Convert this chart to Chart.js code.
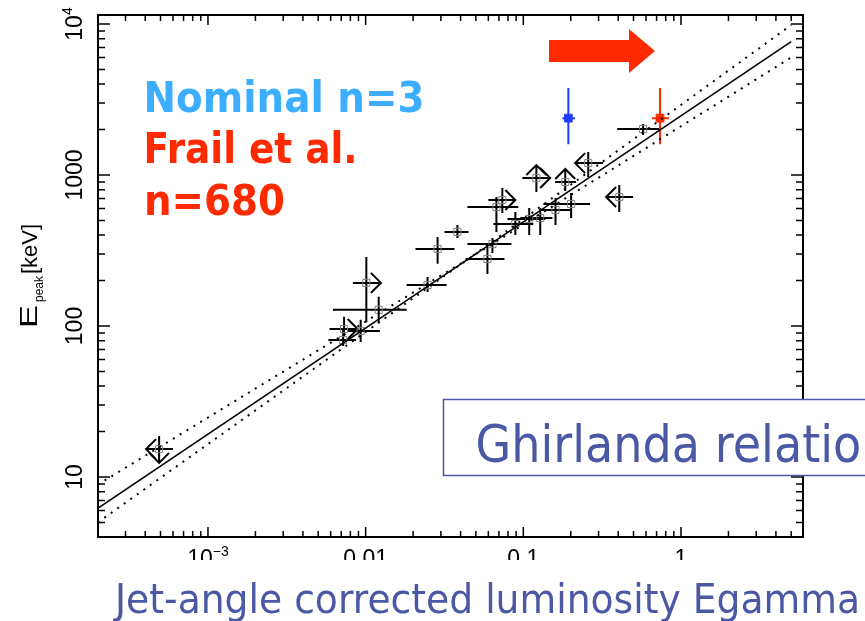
<!DOCTYPE html>
<html>
<head>
<meta charset="utf-8">
<script src="https://cdn.jsdelivr.net/npm/chart.js@4/dist/chart.umd.min.js"></script>
<style>
  html, body { margin: 0; padding: 0; background: #fff; overflow: hidden; }
  #wrap { position: relative; width: 865px; height: 621px; }
  #plot, #notes { position: absolute; left: 0; top: 0; }
</style>
</head>
<body>
<div id="wrap">
  <canvas id="plot" width="865" height="621"></canvas>
  <svg id="notes" width="865" height="621">
    <g font-family="DejaVu Sans, Verdana, sans-serif" font-weight="bold" font-size="43">
      <text x="143.5" y="112" fill="#3daeff" textLength="281" lengthAdjust="spacingAndGlyphs">Nominal n=3</text>
      <text x="143.5" y="163" fill="#ff2a00" textLength="214" lengthAdjust="spacingAndGlyphs">Frail et al.</text>
      <text x="144" y="215" fill="#ff2a00" textLength="141" lengthAdjust="spacingAndGlyphs">n=680</text>
    </g>
    <polygon points="549,40 629,40 629,29 655,51 629,73 629,62 549,62" fill="#ff2a00"/>
    <rect x="443.5" y="399.5" width="480" height="76" fill="#fff" stroke="#4b58a3" stroke-width="1.5"/>
    <g font-family="DejaVu Sans, Verdana, sans-serif" fill="#4b58a3">
      <text x="475.5" y="462" font-size="52" textLength="415" lengthAdjust="spacingAndGlyphs">Ghirlanda relation</text>
      <text x="115" y="613" font-size="41.5" textLength="745" lengthAdjust="spacingAndGlyphs">Jet-angle corrected luminosity Egamma</text>
    </g>
  </svg>
</div>
<script>
// GRB sample: E_gamma (x), E_peak in keV (y), error ranges and limit arrows (l/r/u/d)
const grbX    = [4.9e-4, 0.0072, 0.0073, 0.0093, 0.0101, 0.0121, 0.0247, 0.0286, 0.0382, 0.0592, 0.0637, 0.0675, 0.0736, 0.089, 0.109, 0.121, 0.128, 0.160, 0.1845, 0.201, 0.258, 0.406, 0.575];
const grbY    = [15.3, 80.7, 95.5, 92.8, 193, 128, 187, 324, 420, 278, 349, 614, 683, 474, 511, 955, 519, 586, 899, 643, 1199, 715, 2017];
const grbXLo  = [4.05e-4, 0.0058, 0.0059, 0.0077, 0.0083, 0.0062, 0.0182, 0.0207, 0.0316, 0.043, 0.0442, 0.0442, 0.060, 0.0646, 0.0793, 0.0986, 0.0957, 0.128, 0.159, 0.134, 0.213, 0.335, 0.394];
const grbXHi  = [6.0e-4, 0.0087, 0.0089, 0.0123, 0.0125, 0.0182, 0.0326, 0.0366, 0.0449, 0.0759, 0.084, 0.0929, 0.089, 0.1157, 0.138, 0.148, 0.153, 0.198, 0.216, 0.265, 0.321, 0.497, 0.736];
const grbYLo  = [12.4, 73.7, 84.6, 78.3, 106, 105, 168, 258, 383, 221, 304, 420, 560, 401, 401, 771, 401, 467, 783, 519, 970, 569, 1841];
const grbYHi  = [18.7, 94, 115, 110, 286, 156, 211, 388, 467, 334, 383, 715, 820, 569, 604, 1164, 604, 704, 1096, 760, 1419, 859, 2176];
const grbLimit = ['ld', '', 'r', '', 'r', '', '', '', '', '', '', '', 'r', '', '', 'ru', '', '', 'u', '', 'l', 'l', ''];

// the two highlighted bursts
const nominalX = [0.193], nominalY = [2380], nominalXLo = [0.177], nominalXHi = [0.213], nominalYLo = [1600], nominalYHi = [3770];
const frailX = [0.736], frailY = [2380], frailXLo = [0.655], frailXHi = [0.84], frailYLo = [1600], frailYHi = [3770];

// best fit and its band
const fitX = [2.0e-4, 5.0];
const fitY = [6.2, 7640];
const bandX = [2.0e-4, 0.045, 5.0];
const bandHi = [8.9, 279, 9840];
const bandLo = [5.0, 279, 6000];

// axis ticks
const xTickVals = [1e-3, 0.01, 0.1, 1];
const xTickText = [['10', '\u22123'], ['0.01', ''], ['0.1', ''], ['1', '']];
const yTickVals = [10, 100, 1000, 1e4];
const yTickText = [['10', ''], ['100', ''], ['1000', ''], ['10', '4']];

const pts = (xs, ys) => xs.map((v, i) => ({ x: v, y: ys[i] }));

function drawBar(ctx, sx, sy, vx, vy, xlo, xhi, ylo, yhi, lim, color) {
  const px = sx.getPixelForValue(vx), py = sy.getPixelForValue(vy);
  const x0 = sx.getPixelForValue(xlo), x1 = sx.getPixelForValue(xhi);
  const y0 = sy.getPixelForValue(ylo), y1 = sy.getPixelForValue(yhi);
  const a = 10;
  ctx.strokeStyle = color;
  ctx.beginPath();
  ctx.moveTo(x0, py); ctx.lineTo(x1, py);
  ctx.moveTo(px, y0); ctx.lineTo(px, y1);
  if (lim.includes('l')) { ctx.moveTo(x0 + a, py - a); ctx.lineTo(x0, py); ctx.lineTo(x0 + a, py + a); }
  if (lim.includes('r')) { ctx.moveTo(x1 - a, py - a); ctx.lineTo(x1, py); ctx.lineTo(x1 - a, py + a); }
  if (lim.includes('u')) { ctx.moveTo(px - a, y1 + a); ctx.lineTo(px, y1); ctx.lineTo(px + a, y1 + a); }
  if (lim.includes('d')) { ctx.moveTo(px - a, y0 - a); ctx.lineTo(px, y0); ctx.lineTo(px + a, y0 - a); }
  ctx.stroke();
}

const errorBars = {
  id: 'errorBars',
  beforeDatasetsDraw(chart) {
    const { ctx, scales: { x, y } } = chart;
    ctx.save();
    ctx.lineWidth = 2;
    grbX.forEach((v, i) => drawBar(ctx, x, y, v, grbY[i], grbXLo[i], grbXHi[i], grbYLo[i], grbYHi[i], grbLimit[i], '#000'));
    drawBar(ctx, x, y, nominalX[0], nominalY[0], nominalXLo[0], nominalXHi[0], nominalYLo[0], nominalYHi[0], '', '#1f3dff');
    drawBar(ctx, x, y, frailX[0], frailY[0], frailXLo[0], frailXHi[0], frailYLo[0], frailYHi[0], '', '#ff2a00');
    ctx.restore();
  }
};

function tickLabel(ctx, base, sup, cx, by) {
  ctx.font = '23px "Liberation Sans", Arial, sans-serif';
  const w1 = ctx.measureText(base).width;
  ctx.font = '14px "Liberation Sans", Arial, sans-serif';
  const w2 = sup ? ctx.measureText(sup).width : 0;
  const sx = cx - (w1 + w2) / 2;
  ctx.font = '23px "Liberation Sans", Arial, sans-serif';
  ctx.fillText(base, sx, by);
  if (sup) {
    ctx.font = '14px "Liberation Sans", Arial, sans-serif';
    ctx.fillText(sup, sx + w1, by - 10);
  }
}

// boxed frame with inward log ticks on all four sides, plus labels
const frame = {
  id: 'frame',
  afterDraw(chart) {
    const { ctx, chartArea: a, scales: { x, y } } = chart;
    ctx.save();
    ctx.strokeStyle = '#000';
    ctx.lineWidth = 2;
    ctx.strokeRect(a.left, a.top, a.right - a.left, a.bottom - a.top);
    ctx.lineWidth = 1.5;
    ctx.beginPath();
    for (let e = -4; e <= 1; e++) {
      for (let m = 1; m <= 9; m++) {
        const v = m * Math.pow(10, e);
        if (v < x.min || v > x.max) continue;
        const p = x.getPixelForValue(v), len = m === 1 ? 10 : 6;
        ctx.moveTo(p, a.bottom); ctx.lineTo(p, a.bottom - len);
        ctx.moveTo(p, a.top); ctx.lineTo(p, a.top + len);
      }
    }
    for (let e = 0; e <= 4; e++) {
      for (let m = 1; m <= 9; m++) {
        const v = m * Math.pow(10, e);
        if (v < y.min || v > y.max) continue;
        const p = y.getPixelForValue(v), len = m === 1 ? 12 : 7;
        ctx.moveTo(a.left, p); ctx.lineTo(a.left + len, p);
        ctx.moveTo(a.right, p); ctx.lineTo(a.right - len, p);
      }
    }
    ctx.stroke();

    ctx.fillStyle = '#000';
    ctx.textBaseline = 'alphabetic';
    ctx.textAlign = 'left';

    // x labels, lower half hidden under the slide caption band
    ctx.save();
    ctx.beginPath();
    ctx.rect(0, a.bottom + 3, chart.width, 20);
    ctx.clip();
    xTickVals.forEach((v, i) => tickLabel(ctx, xTickText[i][0], xTickText[i][1], x.getPixelForValue(v), 566));
    ctx.restore();

    yTickVals.forEach((v, i) => {
      ctx.save();
      ctx.translate(82, y.getPixelForValue(v));
      ctx.rotate(-Math.PI / 2);
      tickLabel(ctx, yTickText[i][0], yTickText[i][1], 0, 0);
      ctx.restore();
    });

    // y title: E_peak [keV]
    ctx.save();
    ctx.translate(37, 328);
    ctx.rotate(-Math.PI / 2);
    ctx.save();
    ctx.scale(1.5, 1);
    ctx.font = '23px "Liberation Sans", Arial, sans-serif';
    ctx.fillText('E', 0, 0);
    ctx.restore();
    ctx.font = '12px "Liberation Sans", Arial, sans-serif';
    ctx.fillText('peak', 26, 6);
    ctx.font = '22px "Liberation Sans", Arial, sans-serif';
    ctx.fillText('[keV]', 54, 0);
    ctx.restore();

    ctx.restore();
  }
};

new Chart(document.getElementById('plot'), {
  type: 'scatter',
  data: {
    datasets: [
      { data: pts(fitX, fitY), showLine: true, borderColor: '#000', borderWidth: 1.6, pointRadius: 0 },
      { data: pts(bandX, bandHi), showLine: true, borderColor: '#000', borderWidth: 2, borderDash: [2, 6], pointRadius: 0 },
      { data: pts(bandX, bandLo), showLine: true, borderColor: '#000', borderWidth: 2, borderDash: [2, 6], pointRadius: 0 },
      { data: pts(grbX, grbY), pointStyle: 'rect', pointRadius: 5, borderColor: '#808080', borderWidth: 1, backgroundColor: 'rgba(0,0,0,0)' },
      { data: pts(nominalX, nominalY), pointStyle: 'rect', pointRadius: 5.5, borderColor: '#1f3dff', backgroundColor: '#1f3dff', borderWidth: 1 },
      { data: pts(frailX, frailY), pointStyle: 'rect', pointRadius: 5.5, borderColor: '#ff2a00', backgroundColor: '#ff2a00', borderWidth: 1 }
    ]
  },
  options: {
    responsive: false,
    animation: false,
    devicePixelRatio: 1,
    layout: { padding: { left: 98, right: 62, top: 15, bottom: 84 } },
    plugins: { legend: { display: false }, tooltip: { enabled: false } },
    scales: {
      x: { type: 'logarithmic', display: false, bounds: 'data', min: 2.007e-4, max: 5.94 },
      y: { type: 'logarithmic', display: false, bounds: 'data', min: 4.006, max: 11470 }
    }
  },
  plugins: [errorBars, frame]
});
</script>
</body>
</html>
